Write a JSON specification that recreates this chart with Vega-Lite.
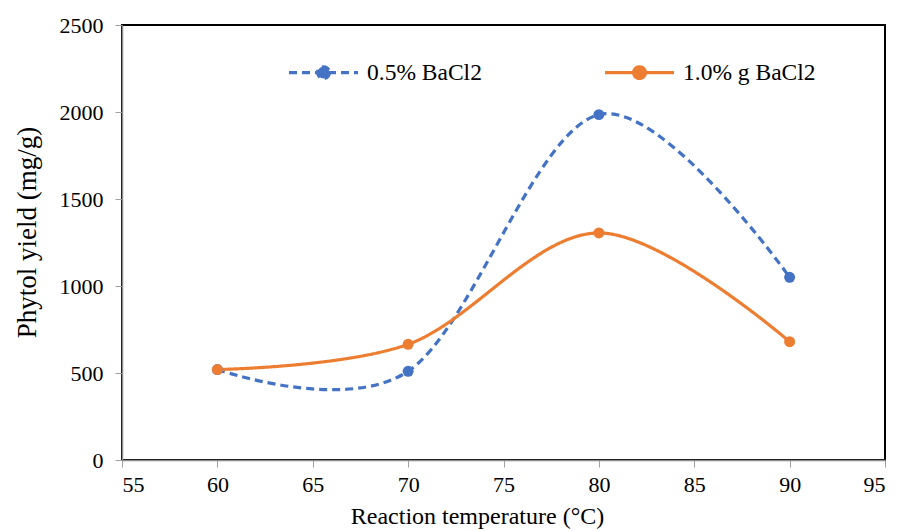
{
  "$schema": "https://vega.github.io/schema/vega-lite/v6.json",
  "autosize": "none",
  "width": 763,
  "height": 435,
  "padding": {"left": 122, "top": 25, "right": 13, "bottom": 71},
  "background": "white",
  "config": {
    "view": {"stroke": "black", "strokeWidth": 2},
    "axis": {"grid": false}
  },
  "data": {
    "values": [
      {"T": 60, "Y": 520, "S": "0.5% BaCl2"},
      {"T": 70, "Y": 510, "S": "0.5% BaCl2"},
      {"T": 80, "Y": 1985, "S": "0.5% BaCl2"},
      {"T": 90, "Y": 1050, "S": "0.5% BaCl2"},
      {"T": 60, "Y": 520, "S": "1.0% g BaCl2"},
      {"T": 70, "Y": 665, "S": "1.0% g BaCl2"},
      {"T": 80, "Y": 1305, "S": "1.0% g BaCl2"},
      {"T": 90, "Y": 680, "S": "1.0% g BaCl2"}
    ]
  },
  "mark": {
    "type": "line",
    "interpolate": "cardinal",
    "strokeWidth": 3.2,
    "point": {"filled": true, "size": 120, "opacity": 1}
  },
  "encoding": {
    "x": {
      "field": "T",
      "type": "quantitative",
      "scale": {"domain": [55, 95], "nice": false, "zero": false},
      "axis": {
        "values": [55, 60, 65, 70, 75, 80, 85, 90, 95],
        "format": "d",
        "title": "Reaction temperature (°C)",
        "labelFont": "Liberation Serif",
        "titleFont": "Liberation Serif",
        "labelFontSize": 22,
        "titleFontSize": 24,
        "titleFontWeight": "normal",
        "labelColor": "black",
        "titleColor": "black",
        "domainColor": "#8c8c8c",
        "domainWidth": 1.5,
        "tickColor": "#a0a0a0",
        "tickSize": 7,
        "labelPadding": 7,
        "titlePadding": 9,
        "titleX": 355,
        "titleAnchor": "middle"
      }
    },
    "y": {
      "field": "Y",
      "type": "quantitative",
      "scale": {"domain": [0, 2500], "nice": false},
      "axis": {
        "values": [0, 500, 1000, 1500, 2000, 2500],
        "format": "d",
        "title": "Phytol yield (mg/g)",
        "labelFont": "Liberation Serif",
        "titleFont": "Liberation Serif",
        "labelFontSize": 22,
        "titleFontSize": 27,
        "titleFontWeight": "normal",
        "labelColor": "black",
        "titleColor": "black",
        "domainColor": "#8c8c8c",
        "domainWidth": 1.5,
        "tickColor": "#a0a0a0",
        "tickSize": 7,
        "labelPadding": 12,
        "titlePadding": 18,
        "titleY": 207,
        "titleAnchor": "middle"
      }
    },
    "color": {
      "field": "S",
      "type": "nominal",
      "scale": {"domain": ["0.5% BaCl2", "1.0% g BaCl2"], "range": ["#4472C4", "#ED7D31"]},
      "legend": {
        "title": null,
        "orient": "none",
        "legendX": 165,
        "legendY": 11,
        "direction": "horizontal",
        "columnPadding": 116,
        "symbolType": "M-1,0L1,0M0.17,0A0.17,0.17,0,1,1,-0.17,0A0.17,0.17,0,1,1,0.17,0Z",
        "symbolSize": 4761,
        "symbolStrokeWidth": 3.2,
        "labelFont": "Liberation Serif",
        "labelFontSize": 23.5,
        "labelColor": "black",
        "labelOffset": 7,
        "encode": {
          "symbols": {"update": {"fill": {"scale": "color", "field": "value"}, "opacity": {"value": 1}}}
        }
      }
    },
    "strokeDash": {
      "field": "S",
      "type": "nominal",
      "scale": {"domain": ["0.5% BaCl2", "1.0% g BaCl2"], "range": [[8, 5], [1, 0]]},
      "legend": {
        "title": null,
        "orient": "none",
        "legendX": 165,
        "legendY": 11,
        "direction": "horizontal",
        "columnPadding": 116,
        "symbolType": "M-1,0L1,0M0.17,0A0.17,0.17,0,1,1,-0.17,0A0.17,0.17,0,1,1,0.17,0Z",
        "symbolSize": 4761,
        "symbolStrokeWidth": 3.2,
        "labelFont": "Liberation Serif",
        "labelFontSize": 23.5,
        "labelColor": "black",
        "labelOffset": 7,
        "encode": {
          "symbols": {"update": {"fill": {"scale": "color", "field": "value"}, "opacity": {"value": 1}}}
        }
      }
    }
  }
}
